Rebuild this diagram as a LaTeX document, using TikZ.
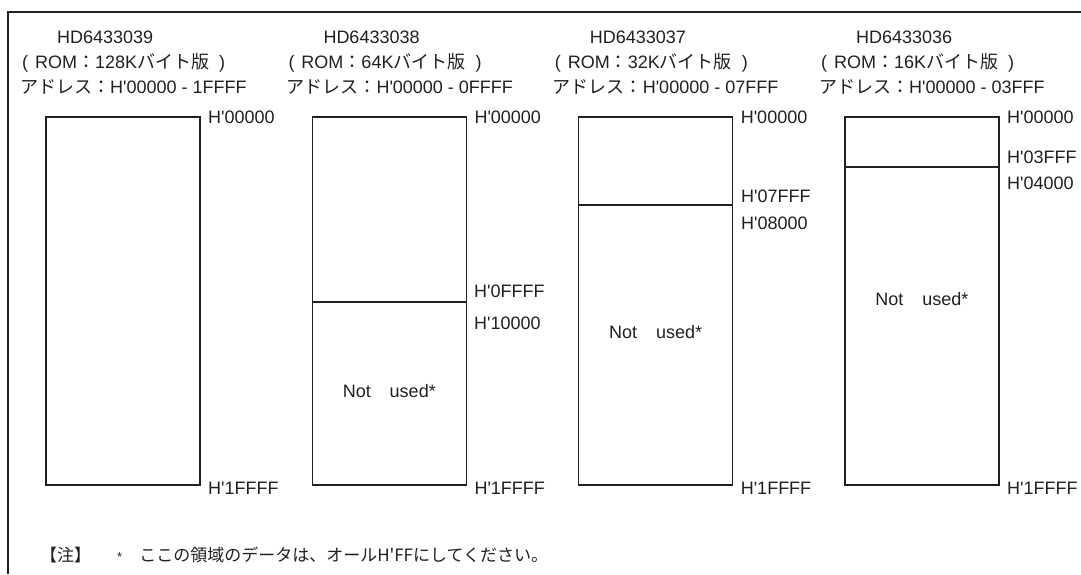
\documentclass[tikz,border=0pt]{standalone}
\usepackage{fontspec}
\newfontfamily\latinfont{Liberation Sans}
\newfontfamily\jpfont{Noto Sans CJK JP}
\newcommand{\jp}[1]{{\jpfont #1}}
\definecolor{ink}{RGB}{35,31,32}

\begin{document}
\begin{tikzpicture}[x=1pt,y=-1pt,
  lbl/.style={anchor=base west,inner sep=0pt,text=ink,font=\latinfont\fontsize{18}{20}\selectfont},
  unused/.style={lbl,anchor=base},
  mapbox/.style={draw=ink,line width=1.5pt}]
  \useasboundingbox (0,0) rectangle (1081,574);
  % frame
  \draw[ink,line width=2pt] (8,574) -- (8,12) -- (1081,12);
  % one memory map per chip
  \foreach \i/\part/\kb/\last in {0/39/128/1FFFF,1/38/64/0FFFF,2/37/32/07FFF,3/36/16/03FFF}{
    \pgfmathsetmacro\bx{46+266.3*\i}
    \node[lbl] (hd\i) at (\bx+11,43) {HD64330\part};
    \node[lbl] (rom\i) at (\bx-24,68) {(\hspace{7pt}ROM\jp{：}\kb K\jp{バイト版}\hspace{10pt})};
    \node[lbl] (adr\i) at (\bx-26,93) {\jp{アドレス：}H'00000 - \last};
    \draw[mapbox] (\bx,117) rectangle ++(154,368);
    \node[lbl] (top\i) at (\bx+162,123) {H'00000};
    \node[lbl] (bot\i) at (\bx+162,494) {H'1FFFF};
  }
  % 64K
  \draw[mapbox] (312.3,302) -- ++(154,0);
  \node[lbl] (end1) at (474,297) {H'0FFFF};
  \node[lbl] (beg1) at (474,329) {H'10000};
  \node[unused] (nu1) at (389.3,397) {Not\hspace{1.05em}used*};
  % 32K
  \draw[mapbox] (578.6,205) -- ++(154,0);
  \node[lbl] (end2) at (741,202) {H'07FFF};
  \node[lbl] (beg2) at (741,229) {H'08000};
  \node[unused] (nu2) at (655.6,338) {Not\hspace{1.05em}used*};
  % 16K
  \draw[mapbox] (844.9,167) -- ++(154,0);
  \node[lbl] (end3) at (1007,163) {H'03FFF};
  \node[lbl] (beg3) at (1007,189) {H'04000};
  \node[unused] (nu3) at (921.9,305) {Not\hspace{1.05em}used*};
  % note
  \node[anchor=base west,inner sep=0pt,text=ink,font=\jpfont\fontsize{17}{20}\selectfont] (note)
    at (40,561) {【注】\hspace{26pt}{\latinfont\fontsize{13}{13}\selectfont *}\hspace{17pt}ここの領域のデータは、オールH'FFにしてください。};
\end{tikzpicture}
\end{document}
